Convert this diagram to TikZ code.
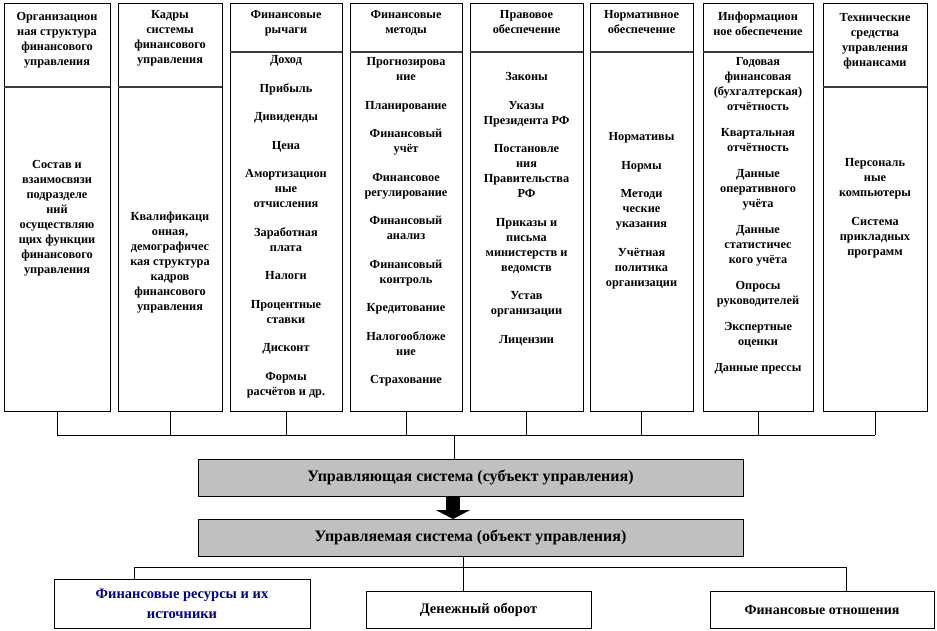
\documentclass[tikz,border=0pt]{standalone}
\usepackage{fontspec}
\setmainfont{Liberation Serif}
\usetikzlibrary{arrows.meta}
\definecolor{graybox}{RGB}{192,192,192}
\definecolor{navytext}{RGB}{0,0,128}
\definecolor{divgray}{RGB}{60,60,60}
\newcommand\cfnt{\bfseries\fontsize{12.3}{15}\selectfont}
\newcommand\bfntA{\bfseries\fontsize{16}{18}\selectfont}
\newcommand\bfntB{\bfseries\fontsize{14.5}{20}\selectfont}
\newcommand\bfntC{\bfseries\fontsize{14}{15}\selectfont}
\tikzset{
  box/.style={draw=black, line width=1pt, inner sep=0pt, outer sep=0pt},
  gbox/.style={box, fill=graybox},
  wbox/.style={box, fill=white},
  txt/.style={align=center, inner sep=0pt, font=\cfnt, anchor=north},
  ln/.style={draw=black, line width=1pt},
  divider/.style={draw=divgray, line width=1.6pt},
  bigarrow/.style={line width=14pt, -{Triangle[width=34pt,length=9pt]}},
}
\begin{document}
\begin{tikzpicture}[x=1pt,y=-1pt]
\useasboundingbox (0,0) rectangle (937,631);

% ---- column boxes ----
\node[box, minimum width=106pt, minimum height=83pt]  (h1) at (57,45.5) {};
\node[box, minimum width=106pt, minimum height=324pt] (b1) at (57,249) {};
\node[box, minimum width=104pt, minimum height=83pt]  (h2) at (170,45.5) {};
\node[box, minimum width=104pt, minimum height=324pt] (b2) at (170,249) {};
\node[box, minimum width=112pt, minimum height=48pt]  (h3) at (286,28) {};
\node[box, minimum width=112pt, minimum height=359pt] (b3) at (286,231.5) {};
\node[box, minimum width=112pt, minimum height=48pt]  (h4) at (406,28) {};
\node[box, minimum width=112pt, minimum height=359pt] (b4) at (406,231.5) {};
\node[box, minimum width=113pt, minimum height=48pt]  (h5) at (526.5,28) {};
\node[box, minimum width=113pt, minimum height=359pt] (b5) at (526.5,231.5) {};
\node[box, minimum width=103pt, minimum height=48pt]  (h6) at (641.5,28) {};
\node[box, minimum width=103pt, minimum height=359pt] (b6) at (641.5,231.5) {};
\node[box, minimum width=110pt, minimum height=48pt]  (h7) at (758,28) {};
\node[box, minimum width=110pt, minimum height=359pt] (b7) at (758,231.5) {};
\node[box, minimum width=104pt, minimum height=83pt]  (h8) at (875,45.5) {};
\node[box, minimum width=104pt, minimum height=324pt] (b8) at (875,249) {};

\foreach \i in {1,...,8}{\draw[divider] (h\i.south west) -- (h\i.south east);}

% ---- header texts ----
\node[txt] (t1) at (57,10)    {\strut Организацион\\ная структура\\финансового\\управления};
\node[txt] (t2) at (170,8)    {\strut Кадры\\системы\\финансового\\управления};
\node[txt] (t3) at (286,8)    {\strut Финансовые\\рычаги};
\node[txt] (t4) at (406,8)    {\strut Финансовые\\методы};
\node[txt] (t5) at (526.5,8)  {\strut Правовое\\обеспечение};
\node[txt] (t6) at (641.5,8)  {\strut Нормативное\\обеспечение};
\node[txt] (t7) at (758,10)   {\strut Информацион\\ное обеспечение};
\node[txt] (t8) at (875,11)   {\strut Технические\\средства\\управления\\финансами};

% ---- body texts ----
\node[txt] (s1) at (57,158) {\strut Состав и\\взаимосвязи\\подразделе\\ний\\осуществляю\\щих функции\\финансового\\управления};
\node[txt] (s2) at (170,210) {\strut Квалификаци\\онная,\\демографичес\\кая структура\\кадров\\финансового\\управления};
\node[txt] (s3) at (286,53) {\strut Доход\\[13.5pt]Прибыль\\[13.5pt]Дивиденды\\[13.5pt]Цена\\[13.5pt]Амортизацион\\ные\\отчисления\\[13.5pt]Заработная\\плата\\[13.5pt]Налоги\\[13.5pt]Процентные\\ставки\\[13.5pt]Дисконт\\[13.5pt]Формы\\расчётов и др.};
\node[txt] (s4) at (406,55) {\strut Прогнозирова\\ние\\[13.5pt]Планирование\\[13.5pt]Финансовый\\учёт\\[13.5pt]Финансовое\\регулирование\\[13.5pt]Финансовый\\анализ\\[13.5pt]Финансовый\\контроль\\[13.5pt]Кредитование\\[13.5pt]Налогообложе\\ние\\[13.5pt]Страхование};
\node[txt] (s5) at (526.5,70) {\strut Законы\\[13.5pt]Указы\\Президента РФ\\[13.5pt]Постановле\\ния\\Правительства\\РФ\\[13.5pt]Приказы  и\\письма\\министерств и\\ведомств\\[13.5pt]Устав\\организации\\[13.5pt]Лицензии};
\node[txt] (s6) at (641.5,130) {\strut Нормативы\\[13.5pt]Нормы\\[13.5pt]Методи\\ческие\\указания\\[13.5pt]Учётная\\политика\\организации};
\node[txt] (s7) at (758,55) {\strut Годовая\\финансовая\\(бухгалтерская)\\отчётность\\[11pt]Квартальная\\отчётность\\[11pt]Данные\\оперативного\\учёта\\[11pt]Данные\\статистичес\\кого учёта\\[11pt]Опросы\\руководителей\\[11pt]Экспертные\\оценки\\[11pt]Данные прессы};
\node[txt] (s8) at (875,156) {\strut Персональ\\ные\\компьютеры\\[14pt]Система\\прикладных\\программ};

% ---- upper bus ----
\coordinate (tb) at (454,435);
\foreach \i in {1,...,8}{\draw[ln] (b\i.south) -- (b\i.south |- tb);}
\draw[ln] (b1.south |- tb) -- (b8.south |- tb);

% ---- control / object systems ----
\node[gbox, minimum width=545pt, minimum height=37pt, font=\bfntA] (ctrl) at (470.5,477.5) {Управляющая система (субъект управления)};
\node[gbox, minimum width=545pt, minimum height=37pt, font=\bfntA] (obj)  at (470.5,537.5) {Управляемая система (объект управления)};
\draw[ln] (tb) -- (ctrl.north -| tb);
\coordinate (ax) at (453,0);
\draw[bigarrow] (ctrl.south -| ax) -- (obj.north -| ax);

% ---- lower boxes ----
\node[wbox, minimum width=256pt, minimum height=49pt, align=center, font=\bfntB, text=navytext] (r1) at (182,603.5) {Финансовые ресурсы и их\\источники};
\node[wbox, minimum width=225pt, minimum height=37pt, font=\bfntB] (r2) at (478.5,609.5) {Денежный оборот};
\node[wbox, minimum width=224pt, minimum height=37pt, font=\bfntC] (r3) at (822,609.5) {Финансовые отношения};

\coordinate (j) at (463,567);
\coordinate (d1) at (134,567);
\coordinate (d3) at (846,567);
\draw[ln] (obj.south -| j) -- (j);
\draw[ln] (d1) -- (d3);
\draw[ln] (d1) -- (r1.north -| d1);
\draw[ln] (j) -- (r2.north -| j);
\draw[ln] (d3) -- (r3.north -| d3);
\end{tikzpicture}
\end{document}
